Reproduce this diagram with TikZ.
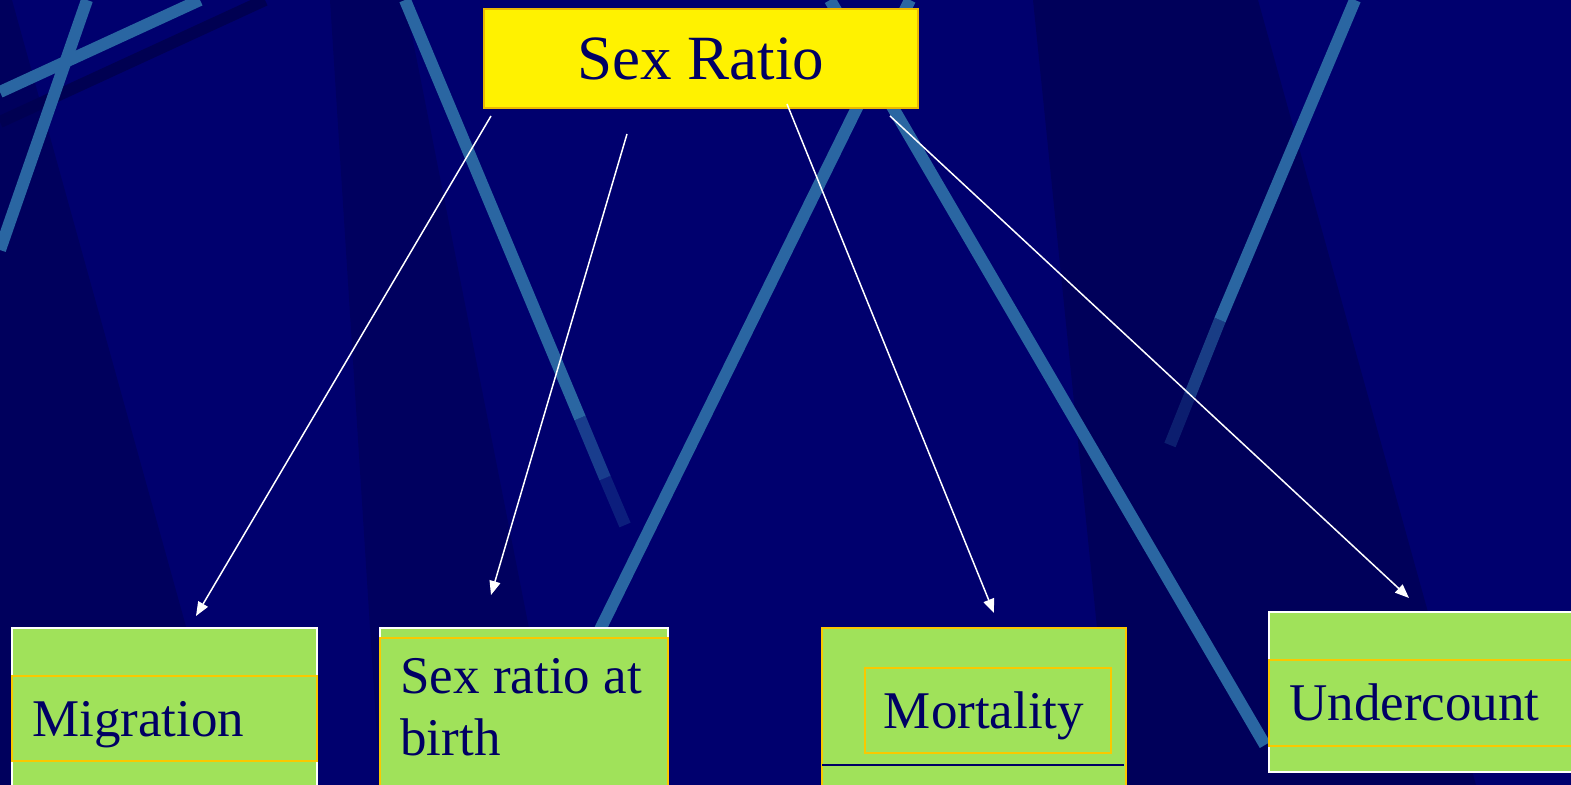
\documentclass[tikz,border=0pt]{standalone}
\usepackage{fontspec}
\setmainfont{Liberation Serif}
\usetikzlibrary{arrows.meta}
\definecolor{bg}{RGB}{0,0,110}
\definecolor{bgdark}{RGB}{0,0,82}
\definecolor{stripe}{RGB}{42,102,162}
\definecolor{ybord}{RGB}{235,185,0}
\definecolor{gfill}{RGB}{160,226,90}
\definecolor{obord}{RGB}{250,200,0}
\definecolor{navy}{RGB}{0,0,100}
\tikzset{
  stripeline/.style={line width=6pt, draw=stripe},
  topbox/.style={draw=ybord, line width=1pt, fill=yellow, anchor=north west, inner sep=0pt,
    text=navy, font=\fontsize{31.5}{36}\selectfont},
  greenbox/.style={fill=gfill, line width=1pt, anchor=north west, inner sep=0pt},
  band/.style={draw=obord, line width=1pt, anchor=north west, inner sep=0pt},
  lbl/.style={text=navy, font=\fontsize{26.5}{31}\selectfont, inner sep=0pt, anchor=base west, align=left},
  arrow/.style={draw=white, line width=0.75pt, -{Triangle[width=5.5pt,length=7pt]}}
}
\begin{document}
\begin{tikzpicture}[x=0.5pt,y=-0.5pt]
\useasboundingbox (0,0) rectangle (1571,785);
\clip (0,0) rectangle (1571,785);
% background
\fill[bg] (0,0) rectangle (1571,785);
\fill[bgdark, opacity=0.6] (0,0) -- (12,0) -- (230,785) -- (0,785) -- cycle;
\fill[bgdark, opacity=0.5] (330,0) -- (405,0) -- (560,785) -- (380,785) -- cycle;
\fill[bgdark, opacity=0.7] (1033,0) -- (1258,0) -- (1476,785) -- (1113,785) -- cycle;
% stripes
\draw[line width=6pt, draw=bgdark] (0,122) -- (265,0);
\draw[stripeline] (0,92) -- (200,0);
\draw[stripeline] (87,0) -- (0,250);
\draw[stripeline] (405,0) -- (580,418);
\draw[stripeline, opacity=0.6] (580,418) -- (605,478);
\draw[stripeline, opacity=0.3] (605,478) -- (625,525);
\draw[stripeline] (910,0) -- (590,650);
\draw[stripeline] (830,0) -- (1265,745);
\draw[stripeline] (1355,0) -- (1220,320);
\draw[stripeline, opacity=0.6] (1220,320) -- (1190,395);
\draw[stripeline, opacity=0.3] (1190,395) -- (1170,445);
% top box
\node[topbox, minimum width={434*0.5pt}, minimum height={99*0.5pt}] (top) at (483,8) {Sex Ratio};
% Migration
\node[greenbox, draw=white, minimum width={305*0.5pt}, minimum height={170*0.5pt}] (mig) at (11,627) {};
\node[band, minimum width={305*0.5pt}, minimum height={85*0.5pt}] (migband) at (11,675) {};
\node[lbl] (migtxt) at (32,737) {Migration};
% Sex ratio at birth
\node[greenbox, draw=white, minimum width={288*0.5pt}, minimum height={170*0.5pt}] (srb) at (379,627) {};
\node[band, minimum width={288*0.5pt}, minimum height={160*0.5pt}] (srbband) at (379,637) {};
\node[text=navy, font=\fontsize{26.5}{31}\selectfont, inner sep=0pt, anchor=north west, align=left] (srbtxt) at (400,658) {Sex ratio at\\birth};
% Mortality
\node[greenbox, draw=obord, minimum width={304*0.5pt}, minimum height={170*0.5pt}] (mor) at (821,627) {};
\node[band, minimum width={246*0.5pt}, minimum height={85*0.5pt}] (morband) at (864,667) {};
\node[lbl, anchor=base] (mortxt) at (984,729) {Mortality};
\coordinate (ml1) at (822,765);
\coordinate (ml2) at (1124,765);
\draw[navy, line width=0.6pt] (ml1) -- (ml2);
% Undercount
\node[greenbox, draw=white, minimum width={320*0.5pt}, minimum height={160*0.5pt}] (und) at (1268,611) {};
\node[band, minimum width={320*0.5pt}, minimum height={86*0.5pt}] (undband) at (1268,659) {};
\node[lbl] (undtxt) at (1289,721) {Undercount};
% arrows
\coordinate (s1) at (491,116);
\coordinate (s2) at (627,134);
\coordinate (s3) at (787,104);
\coordinate (s4) at (890,116);
\coordinate (t1) at (196,616);
\coordinate (t2) at (491,595);
\coordinate (t3) at (994,613);
\coordinate (t4) at (1409,598);
\draw[arrow] (s1) -- (t1);
\draw[arrow] (s2) -- (t2);
\draw[arrow] (s3) -- (t3);
\draw[arrow] (s4) -- (t4);
\end{tikzpicture}
\end{document}
